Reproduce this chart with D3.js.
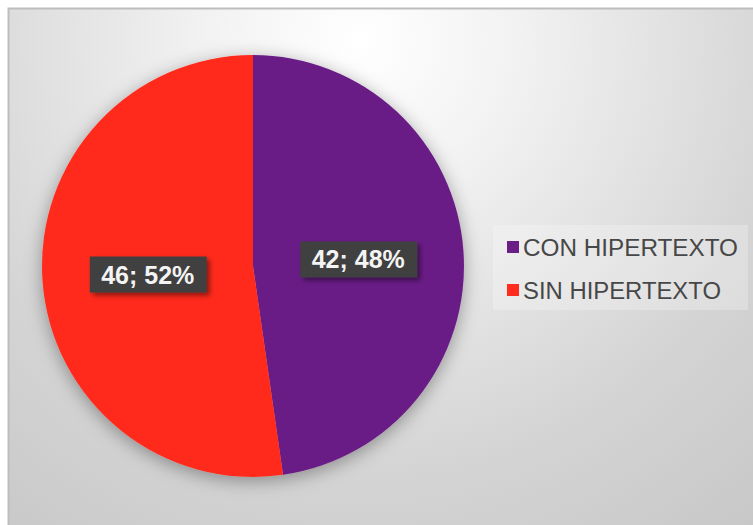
<!DOCTYPE html>
<html>
<head>
<meta charset="utf-8">
<script src="https://cdn.jsdelivr.net/npm/d3@7"></script>
<style>
  html, body { margin: 0; padding: 0; background: #ffffff; }
  svg { display: block; }
</style>
</head>
<body>
<svg id="chart" width="753" height="525"></svg>
<script>
// Pie data
const categories = ["CON HIPERTEXTO", "SIN HIPERTEXTO"];
const counts = [42, 46];
const percentLabels = ["48%", "52%"];
const sliceColors = ["#6a1f86", "#ff2b1e"];

const W = 753, H = 525;
const svg = d3.select("#chart");
const defs = svg.append("defs");

// Background gradient: bright near the top centre, grey towards the edges
const bg = defs.append("radialGradient")
  .attr("id", "bgGrad")
  .attr("gradientUnits", "userSpaceOnUse")
  .attr("cx", 360).attr("cy", 40).attr("r", 620)
  .attr("fx", 360).attr("fy", 40);
bg.append("stop").attr("offset", "0%").attr("stop-color", "#ffffff");
bg.append("stop").attr("offset", "25%").attr("stop-color", "#f2f2f2");
bg.append("stop").attr("offset", "70%").attr("stop-color", "#d4d4d4");
bg.append("stop").attr("offset", "100%").attr("stop-color", "#c8c8c8");

const pieShadow = defs.append("filter").attr("id", "pieShadow")
  .attr("x", "-20%").attr("y", "-20%").attr("width", "140%").attr("height", "140%");
pieShadow.append("feDropShadow")
  .attr("dx", 0).attr("dy", 4).attr("stdDeviation", 9)
  .attr("flood-color", "#000").attr("flood-opacity", 0.35);

const boxShadow = defs.append("filter").attr("id", "boxShadow")
  .attr("x", "-20%").attr("y", "-30%").attr("width", "150%").attr("height", "180%");
boxShadow.append("feDropShadow")
  .attr("dx", 3).attr("dy", 3).attr("stdDeviation", 2.5)
  .attr("flood-color", "#000").attr("flood-opacity", 0.45);

// Chart area; its right and bottom edges run past the visible area
svg.append("rect")
  .attr("x", 8.5).attr("y", 8.5)
  .attr("width", W + 20).attr("height", H + 20)
  .attr("fill", "url(#bgGrad)")
  .attr("stroke", "#bdbdbd").attr("stroke-width", 2);

// Pie
const cx = 253, cy = 266, radius = 211;
const pie = d3.pie().sort(null).value(d => d);
const arcs = pie(counts);
const arc = d3.arc().innerRadius(0).outerRadius(radius);

const g = svg.append("g").attr("transform", `translate(${cx},${cy})`);
g.append("g").attr("filter", "url(#pieShadow)")
  .selectAll("path")
  .data(arcs)
  .join("path")
  .attr("d", arc)
  .attr("fill", (d, i) => sliceColors[i]);

// Data labels: "value; percent" in dark boxes at the slice centroids
const labels = g.selectAll("g.lbl")
  .data(arcs)
  .join("g")
  .attr("class", "lbl")
  .attr("transform", d => {
    const [x, y] = arc.centroid(d);
    return `translate(${x},${y + 1})`;
  });

labels.append("rect")
  .attr("x", -58).attr("y", -18)
  .attr("width", 117).attr("height", 36)
  .attr("fill", "#404040")
  .attr("filter", "url(#boxShadow)");

labels.append("text")
  .attr("text-anchor", "middle")
  .attr("dy", "0.36em")
  .attr("font-family", "Liberation Sans, Arial, sans-serif")
  .attr("font-weight", "bold")
  .attr("font-size", 25)
  .attr("fill", "#f4f4f4")
  .text((d, i) => `${counts[i]}; ${percentLabels[i]}`);

// Legend
const legend = svg.append("g");
legend.append("rect")
  .attr("x", 493).attr("y", 225)
  .attr("width", 255).attr("height", 85)
  .attr("fill", "#ffffff").attr("fill-opacity", 0.25);

const items = legend.selectAll("g.item")
  .data(categories)
  .join("g")
  .attr("class", "item")
  .attr("transform", (d, i) => `translate(507,${241 + i * 43})`);

items.append("rect")
  .attr("width", 12).attr("height", 12)
  .attr("fill", (d, i) => sliceColors[i]);

items.append("text")
  .attr("x", 16).attr("y", 14.5)
  .attr("font-family", "Liberation Sans, Arial, sans-serif")
  .attr("font-size", 23)
  .attr("fill", "#474747")
  .attr("textLength", (d, i) => i === 0 ? 215 : 198)
  .attr("lengthAdjust", "spacingAndGlyphs")
  .text(d => d);
</script>
</body>
</html>
